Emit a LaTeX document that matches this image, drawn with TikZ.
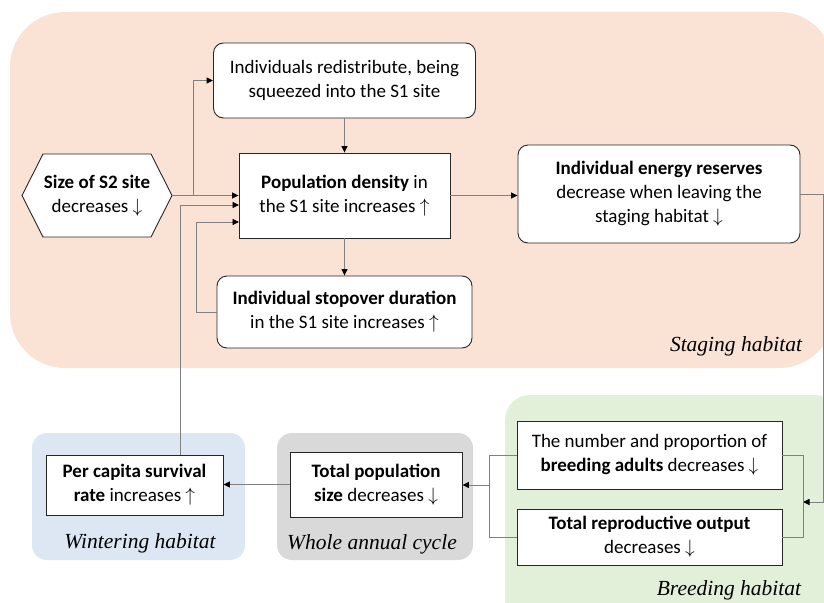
\documentclass[tikz,border=0pt]{standalone}
\usepackage{fontspec}
\setmainfont{Carlito}
\newfontfamily\habfont{Liberation Serif}
\usetikzlibrary{arrows.meta}
\definecolor{stagebg}{HTML}{FAE3D5}
\definecolor{winterbg}{HTML}{DDE7F3}
\definecolor{wholebg}{HTML}{D9D9D9}
\definecolor{breedbg}{HTML}{E2EFD9}
\definecolor{linegray}{HTML}{808080}
\newcommand\myup{\scalebox{1.12}{$\uparrow$}}
\newcommand\mydown{\scalebox{1.12}{$\downarrow$}}
\begin{document}
\begin{tikzpicture}[x=1pt,y=-1pt,
  box/.style={draw=black!85, line width=0.9pt, fill=white, align=center, inner sep=0pt,
    font=\fontsize{19}{24}\selectfont},
  rbox/.style={box, rounded corners=10pt},
  conn/.style={draw=linegray, line width=0.9pt, -{Triangle[length=6.5pt,width=6pt,color=black]}},
  link/.style={draw=linegray, line width=0.9pt},
  hab/.style={font=\habfont\itshape\fontsize{21.5}{24}\selectfont, inner sep=0pt}
]
\useasboundingbox (0,0) rectangle (824,602);
\clip (0,0) rectangle (824,602);
% habitat backgrounds
\fill[stagebg, rounded corners=55pt] (10,12) rectangle (834,368);
\fill[breedbg, rounded corners=25pt] (505,395) rectangle (840,630);
\fill[winterbg, rounded corners=15pt] (32,433) rectangle (245,560);
\fill[wholebg, rounded corners=15pt] (277,433) rectangle (473,560);
\node[hab] (lstage) at (736,346) {Staging habitat};
\node[hab] (lwinter) at (140,543) {Wintering habitat};
\node[hab] (lwhole) at (372,544) {Whole annual cycle};
\node[hab] (lbreed) at (729,590) {Breeding habitat};
% hexagon
\coordinate (hexc) at (97,195.5);
\draw[black!85, line width=0.9pt, fill=white] (22,195.5) -- (43,154) -- (151,154) -- (172,195.5) -- (151,237) -- (43,237) -- cycle;
\node[box, draw=none, fill=none, minimum width=150pt, minimum height=83pt] (size) at (hexc)
  {\textbf{Size of S2 site}\\decreases \mydown};
% boxes
\node[rbox, minimum width=262pt, minimum height=75pt] (redis) at (344.5,80.5)
  {Individuals redistribute, being\\squeezed into the S1 site};
\node[box, minimum width=211pt, minimum height=85pt] (pop) at (344.5,195.5)
  {\textbf{Population density} in\\the S1 site increases \myup};
\node[rbox, minimum width=282pt, minimum height=98pt] (energy) at (659,194)
  {\textbf{Individual energy reserves}\\decrease when leaving the\\staging habitat \mydown};
\node[rbox, minimum width=255pt, minimum height=72pt] (stop) at (344.5,312)
  {\textbf{Individual stopover duration}\\in the S1 site increases \myup};
\node[box, minimum width=177pt, minimum height=60pt] (percap) at (134.5,485)
  {\textbf{Per capita survival}\\\textbf{rate} increases \myup};
\node[box, minimum width=172pt, minimum height=65pt] (tot) at (376,484.5)
  {\textbf{Total population}\\\textbf{size} decreases \mydown};
\node[box, minimum width=265pt, minimum height=68pt] (num) at (649.5,455)
  {The number and proportion of\\\textbf{breeding adults} decreases \mydown};
\node[box, minimum width=265pt, minimum height=56pt] (rep) at (649.5,537)
  {\textbf{Total reproductive output}\\decreases \mydown};
% helper coordinates
\coordinate (br) at (193,195.5);
\coordinate (p2) at (239,205);
\coordinate (p3) at (239,222);
\coordinate (wup) at (180,455);
\coordinate (s3) at (196,312);
\coordinate (e3) at (823,502);
\coordinate (rb) at (803,502);
\coordinate (lb) at (489,485);
% connectors
\draw[conn] (size.east) -- (size.east -| pop.west);
\draw[conn] (br) |- (redis.west);
\draw[conn] (wup) |- (p2);
\draw[conn] (stop.west) -- (s3) |- (p3);
\draw[conn] (redis.south) -- (pop.north);
\draw[conn] (pop.south) -- (stop.north);
\draw[conn] (pop.east) -- (pop.east -| energy.west);
\draw[conn] (energy.east) -| (e3) -- (rb);
\draw[link] (num.east) -- (num.east -| rb) -- (rep.east -| rb) -- (rep.east);
\draw[link] (num.west) -- (num.west -| lb) -- (rep.west -| lb) -- (rep.west);
\draw[conn] (lb) -- (lb -| tot.east);
\draw[conn] (tot.west) -- (tot.west -| percap.east);
\end{tikzpicture}
\end{document}
